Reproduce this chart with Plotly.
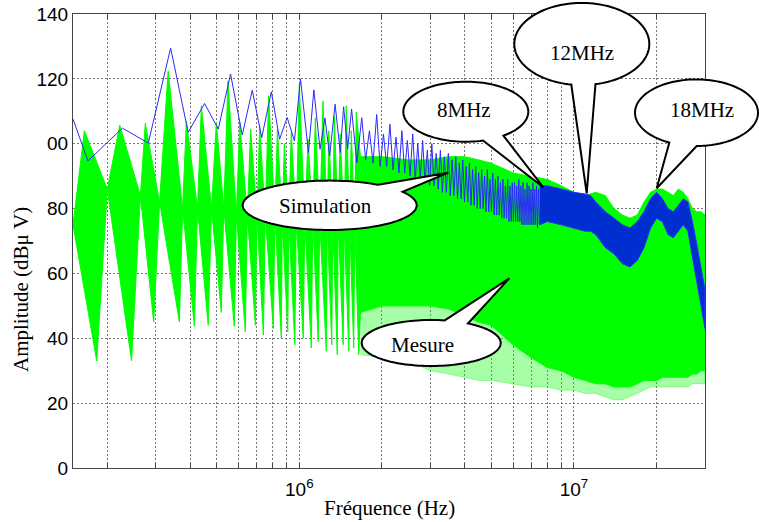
import math
import plotly.graph_objects as go

# ---------------- data ----------------
# Simulation (blue) - low frequency harmonic peaks / valleys
sim_lf_khz = [150, 170, 227, 282, 340, 394, 452, 507, 562, 620, 674, 730, 791, 848, 903, 960,
              1010, 1080, 1130, 1190, 1240, 1290, 1350, 1410, 1450, 1500, 1550, 1620]
sim_lf_db = [107.6, 94.7, 104.8, 100.2, 129.5, 103.5, 112.4, 104.5, 121.5, 102.7, 116.5, 101.9,
             116.0, 101.4, 108.1, 100.9, 120.0, 97.3, 116.6, 98.3, 107.9, 96.2, 112.2, 97.3,
             111.4, 98.3, 110.7, 94.1]
# Simulation - mid frequency harmonics (peak, valley, peak, ...)
sim_mf_khz = [1688, 1744, 1800, 1856, 1913, 1969, 2025, 2081, 2138, 2194, 2250, 2306, 2363, 2419,
              2475, 2531, 2588, 2644, 2700, 2756, 2813, 2869, 2925, 2981, 3038, 3094, 3150, 3206,
              3263, 3319, 3375, 3431, 3488, 3544, 3600, 3656, 3713, 3769, 3825, 3881, 3938, 3994,
              4050, 4106, 4163, 4219, 4275, 4331, 4388, 4444, 4500, 4556, 4613, 4669, 4725, 4781,
              4838, 4894, 4950, 5006, 5063, 5119, 5175, 5231, 5288, 5344, 5400, 5456, 5513, 5569,
              5625, 5681, 5738, 5794, 5850, 5906, 5963, 6019, 6075, 6131, 6188, 6244, 6300, 6356,
              6413, 6469, 6525, 6581, 6638, 6694, 6750, 6806, 6863, 6919, 6975, 7031, 7088, 7144,
              7200, 7256, 7313, 7369, 7425, 7481]
sim_mf_db = [108, 95, 104, 94, 109, 93, 103, 93, 106, 92, 102, 91, 104, 91, 101, 90, 103, 89,
             100, 89, 101, 88, 98, 87, 100, 87, 97, 86, 98, 85, 96, 85, 97, 84, 95, 84, 96, 83,
             94, 83, 95, 82, 93, 82, 94, 81, 92, 81, 93, 80, 91, 80, 92, 80, 90, 79, 92, 79,
             89, 79, 91, 78, 89, 78, 90, 78, 88, 77, 89, 77, 87, 77, 89, 76, 87, 76, 88, 76,
             88, 76, 87, 76, 89, 76, 87, 75, 88, 75, 86, 75, 88, 75, 87, 75, 86, 75, 88, 75,
             86, 75, 87, 74, 86, 75]
# Simulation - high frequency (dense) envelope
sim_hf_mhz = [7.5, 8, 9, 10, 11, 11.5, 12, 13, 14, 15, 16, 17, 18, 19, 20, 21, 22, 23, 24, 25,
              26, 27, 28, 29, 30]
sim_hf_hi = [87, 87, 86, 85, 84.5, 84, 82, 79, 77, 75, 74, 76, 79, 83, 85, 83, 80, 79, 81,
             83, 82, 76, 69, 62, 55]
sim_hf_lo = [75, 76, 75, 74, 73, 73, 72, 68, 66, 63, 62, 64, 68, 74, 77, 76, 72, 71, 73,
             75, 73, 66, 58, 50, 43]

# Mesure (green) - low frequency lobes
mes_gap_khz = [150, 200, 264, 310, 376, 426, 479, 531, 590, 647, 701, 752, 815, 867, 916, 975,
               1047, 1120, 1187, 1264, 1324, 1386, 1458, 1526, 1592]
mes_gap_db = [75, 86, 84, 82, 80, 80, 80, 80, 78, 78, 78, 78, 78, 76, 76, 76, 76, 76, 76, 75,
              75, 75, 75, 75, 75]
mes_peak_khz = [165, 222, 275, 333, 388, 440, 499, 550, 607, 665, 717, 773, 832, 882, 935, 1000,
                1076, 1144, 1220, 1280, 1341, 1409, 1482, 1546, 1612]
mes_peak_db = [104, 105.7, 106.3, 122.5, 107, 111.7, 106.6, 119.4, 106.6, 104.5, 105, 114.8,
               104.5, 100, 103.5, 118.4, 101.4, 108, 113.2, 104, 108.6, 103, 111.7, 104, 109.7]
mes_tip_khz = [183, 245, 295, 366, 415, 466, 520, 580, 636, 692, 740, 804, 860, 908, 963, 1034,
               1106, 1172, 1254, 1313, 1375, 1445, 1514, 1578, 1646]
mes_tip_db = [33, 33, 45, 45, 43.7, 44, 48, 43.7, 42, 44, 41, 43, 40, 42, 38, 40, 37, 39, 36, 38,
              35, 38, 36, 37, 35]
# Mesure - dense band envelopes
mes_hf_mhz = [1.67, 2, 2.5, 3, 3.5, 4, 4.5, 5, 6, 7, 8, 9, 10, 11, 12, 13, 14, 15, 16, 17, 18,
              19, 20, 21, 22, 23, 24, 25, 26, 27, 28, 29, 30]
mes_hf_hi = [96, 96, 95, 95, 96, 96, 95, 94, 91, 90, 89, 87, 85, 84, 85, 84, 80, 78, 77, 78, 82,
             85, 86, 86, 85, 84, 86, 85, 83, 80, 79, 79, 78]
mes_hf_lo = [48, 50, 50, 50, 49, 47, 45, 44, 38, 34, 31, 30, 28, 27, 26, 26, 25, 25, 25, 26, 27,
             27, 27, 28, 28, 28, 28, 28, 28, 29, 29, 30, 30]
mes_hf_faint = [35, 34, 33, 30, 29, 28, 27, 27, 26, 25, 25, 24, 24, 23, 23, 22, 21, 21, 22, 23,
                24, 25, 25, 25, 25, 25, 25, 25, 25, 26, 26, 26, 26]

y_tickvals = [0, 20, 40, 60, 80, 100, 120, 140]
y_ticktext = ["0", "20", "40", "60", "80", "00", "120", "140"]
x_tickvals = [1e6, 1e7]
x_ticktext = ["10<sup>6</sup>", "10<sup>7</sup>"]
x_min, x_max = 1.5e5, 3e7

# ---------------- figure ----------------
fig = go.Figure()

# green: faint lower fringe
bx = [f * 1e6 for f in mes_hf_mhz]
fig.add_trace(go.Scatter(x=bx + bx[::-1], y=mes_hf_lo + mes_hf_faint[::-1], mode="lines",
                         fill="toself", fillcolor="rgba(0,255,0,0.35)",
                         line=dict(color="rgba(0,255,0,0.35)", width=1), hoverinfo="skip"))

# green: lobes + dense band as one polygon
ux = [mes_gap_khz[0] * 1e3]; uy = [mes_gap_db[0]]
lx = [mes_gap_khz[0] * 1e3]; ly = [mes_gap_db[0]]
n = len(mes_peak_khz)
for i in range(n):
    ux.append(mes_peak_khz[i] * 1e3); uy.append(mes_peak_db[i])
    lx.append(mes_tip_khz[i] * 1e3); ly.append(mes_tip_db[i])
    if i + 1 < len(mes_gap_khz):
        ux.append(mes_gap_khz[i + 1] * 1e3); uy.append(mes_gap_db[i + 1])
        lx.append(mes_gap_khz[i + 1] * 1e3); ly.append(mes_gap_db[i + 1])
ux += bx; uy += mes_hf_hi
lx += bx; ly += mes_hf_lo
fig.add_trace(go.Scatter(x=ux + lx[::-1], y=uy + ly[::-1], mode="lines", fill="toself",
                         fillcolor="#00ff00", line=dict(color="#00ff00", width=1),
                         hoverinfo="skip"))

# blue: zigzag
sx = [f * 1e3 for f in sim_lf_khz + sim_mf_khz]
sy = sim_lf_db + sim_mf_db
fig.add_trace(go.Scatter(x=sx, y=sy, mode="lines", line=dict(color="#2a2aff", width=1),
                         hoverinfo="skip"))
# blue: dense band
hx = [f * 1e6 for f in sim_hf_mhz]
fig.add_trace(go.Scatter(x=hx + hx[::-1], y=sim_hf_hi + sim_hf_lo[::-1], mode="lines",
                         fill="toself", fillcolor="rgba(0,0,255,0.82)",
                         line=dict(color="#2a2aff", width=1), hoverinfo="skip"))

# minor grid positions (2..9 x decade)
minor_vals = []
for dec in [1e5, 1e6, 1e7]:
    for k in range(2, 10):
        v = k * dec
        if x_min <= v <= x_max:
            minor_vals.append(v)

SANS = "Liberation Sans, Arial, sans-serif"
SERIF = "Liberation Serif, Times New Roman, serif"
axis_common = dict(showline=True, linecolor="#444", linewidth=1, showgrid=True,
                   gridcolor="#777", griddash="2px,2px", gridwidth=1, zeroline=False,
                   automargin=False, ticklabeloverflow="allow",
                   tickfont=dict(family=SANS, size=19, color="black"))
fig.update_xaxes(type="log", range=[math.log10(x_min), math.log10(x_max)],
                 tickvals=x_tickvals, ticktext=x_ticktext, ticklabelstandoff=4,
                 ticks="inside", ticklen=5, tickcolor="#444", mirror="allticks",
                 minor=dict(tickvals=minor_vals, ticks="inside", ticklen=5, tickcolor="#444",
                            showgrid=True, gridcolor="#777", griddash="2px,2px", gridwidth=1),
                 **axis_common)
fig.update_yaxes(range=[0, 140], tickvals=y_tickvals, ticktext=y_ticktext,
                 ticks="", mirror=True, **axis_common)

# plot area in page pixels (page body margin removed by post_script below)
L, R, T, B = 73, 705, 14, 468
FIG_W, FIG_H = 759, 522


def to_paper(x, y):
    return ((x - L) / (R - L), (B - y) / (B - T))


def bubble(cx, cy, rx, ry, b1, b2, tip):
    t1 = math.atan2((b1[1] - cy) / ry, (b1[0] - cx) / rx)
    t2 = math.atan2((b2[1] - cy) / ry, (b2[0] - cx) / rx)
    up = (t1 - t2) % (2 * math.pi)
    down = (t2 - t1) % (2 * math.pi)
    sweep = up if up > down else -down
    pts = [(cx + rx * math.cos(t1), cy + ry * math.sin(t1)), tip,
           (cx + rx * math.cos(t2), cy + ry * math.sin(t2))]
    N = 120
    for k in range(1, N + 1):
        t = t2 + sweep * k / N
        pts.append((cx + rx * math.cos(t), cy + ry * math.sin(t)))
    pp = [to_paper(*p) for p in pts]
    path = "M " + " L ".join(f"{a:.5f},{b:.5f}" for a, b in pp) + " Z"
    return dict(type="path", path=path, xref="paper", yref="paper", fillcolor="white",
                line=dict(color="black", width=2), layer="above")


bubbles = [
    # cx, cy, rx, ry, base1, base2, tip, text, text_pos
    (465.8, 111.7, 62.5, 30, (483.3, 141), (505, 136.7), (543.3, 187.3), "8MHz", (464, 110)),
    (581.8, 44, 67.5, 41, (570.7, 86.7), (596, 85.7), (586.7, 193.3), "12MHz", (582, 53)),
    (696.5, 112.7, 61.5, 33.3, (671.7, 140), (696.7, 146), (656.7, 188.3), "18MHz", (702, 110)),
    (329.7, 205.3, 87, 24.7, (381.7, 183.3), (403.3, 191.7), (448.3, 172.7), "Simulation", (325, 206)),
    (431.2, 343, 69.5, 23, (445, 320), (468.3, 323.3), (509.3, 278.3), "Mesure", (423, 345)),
]
shapes = []
annotations = []
for cx, cy, rx, ry, b1, b2, tip, txt, tp in bubbles:
    shapes.append(bubble(cx, cy, rx, ry, b1, b2, tip))
    px, py = to_paper(*tp)
    annotations.append(dict(text=txt, x=px, y=py, xref="paper", yref="paper", showarrow=False,
                            xanchor="center", yanchor="middle",
                            font=dict(family=SERIF, size=21, color="black")))

px, py = to_paper(389, 508)
annotations.append(dict(text="Fréquence (Hz)", x=px, y=py, xref="paper", yref="paper",
                        showarrow=False, xanchor="center", yanchor="middle",
                        font=dict(family=SERIF, size=21, color="black")))
px, py = to_paper(21, 290)
annotations.append(dict(text="Amplitude (dBμ V)", x=px, y=py, xref="paper", yref="paper",
                        showarrow=False, xanchor="center", yanchor="middle", textangle=-90,
                        font=dict(family=SERIF, size=21, color="black")))

fig.update_layout(width=FIG_W, height=FIG_H,
                  margin=dict(l=L, r=FIG_W - R, t=T, b=FIG_H - B),
                  plot_bgcolor="white", paper_bgcolor="white", showlegend=False,
                  shapes=shapes, annotations=annotations)

fig.write_html("out.html", config={"displayModeBar": False},
               post_script="document.body.style.margin='0';document.body.style.overflow='hidden';")
